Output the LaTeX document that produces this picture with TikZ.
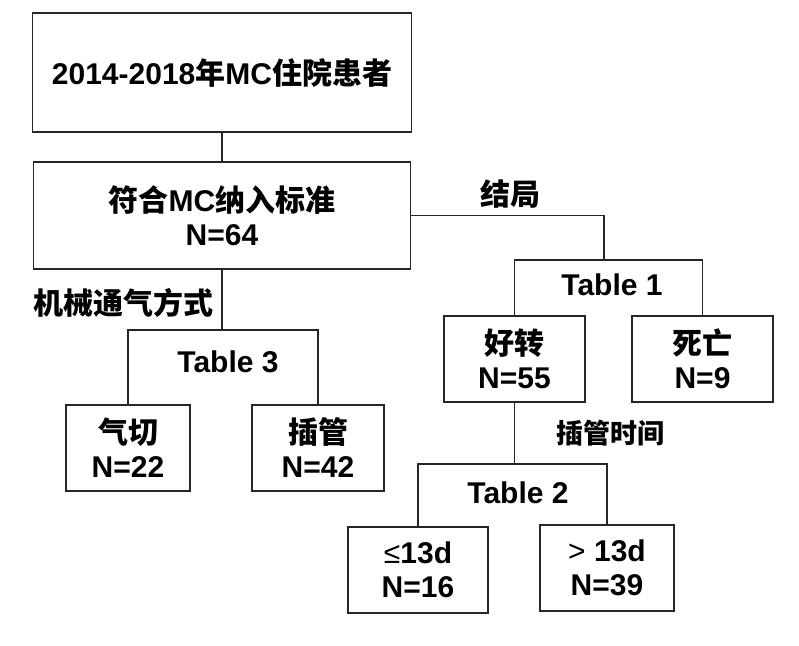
\documentclass[tikz,border=0pt]{standalone}
\usepackage{fontspec}
\setmainfont{Liberation Sans}
\newfontfamily\cjk{Noto Sans CJK SC}
\begin{document}
\begin{tikzpicture}[x=1pt,y=-1pt,
  box/.style={draw=black!85,line width=1.9pt,rectangle,inner sep=0pt,align=center,
    font=\fontsize{30}{34}\selectfont\bfseries},
  lbl/.style={inner sep=0pt,font=\fontsize{30}{34}\selectfont\bfseries},
  slbl/.style={inner sep=0pt,font=\fontsize{27}{32}\selectfont\bfseries},
  conn/.style={draw=black!85,line width=1.9pt}]
\useasboundingbox (0,0) rectangle (799,645);
\fill[white] (0,0) rectangle (799,645);
% boxes
\node[box,minimum width=379pt,minimum height=119pt] (b1) at (222,72.5) {2014-2018{\cjk 年}MC{\cjk 住院患者}};
\node[box,minimum width=377pt,minimum height=107pt] (b2) at (222,215.5) {{\cjk 符合}MC{\cjk 纳入标准}\\N=64};
\node[box,minimum width=141pt,minimum height=86pt] (good) at (514.5,359) {{\cjk 好转}\\N=55};
\node[box,minimum width=141pt,minimum height=86pt] (dead) at (702.5,359) {{\cjk 死亡}\\N=9};
\node[box,minimum width=124pt,minimum height=86pt] (qie) at (128,448) {{\cjk 气切}\\N=22};
\node[box,minimum width=132pt,minimum height=86pt] (cha) at (318,448) {{\cjk 插管}\\N=42};
\node[box,minimum width=140pt,minimum height=86pt] (le) at (418,570) {{\mdseries ≤}13d\\N=16};
\node[box,minimum width=134pt,minimum height=86pt] (gt) at (607,568) {{\mdseries >} 13d\\N=39};
% junctions
\coordinate (j1) at (604,260);
\coordinate (j2) at (222,330);
\coordinate (j3) at (514.5,464);
% connectors
\draw[conn] (b1.south) -- (b2.north);
\draw[conn] (b2.east) -| (j1);
\draw[conn] (good.north) |- (j1) -| (dead.north);
\draw[conn] (b2.south) -- (j2);
\draw[conn] (qie.north) |- (j2) -| (cha.north);
\draw[conn] (good.south) -- (j3);
\draw[conn] (le.north) |- (j3) -| (gt.north);
% labels
\node[lbl] (l1) at (510,194) {\cjk 结局};
\node[lbl] (t1) at (612,285) {Table 1};
\node[lbl] (l2) at (123,303) {\cjk 机械通气方式};
\node[lbl] (t3) at (228,362) {Table 3};
\node[slbl] (l3) at (610,433) {\cjk 插管时间};
\node[lbl] (t2) at (518,493) {Table 2};
\end{tikzpicture}
\end{document}
